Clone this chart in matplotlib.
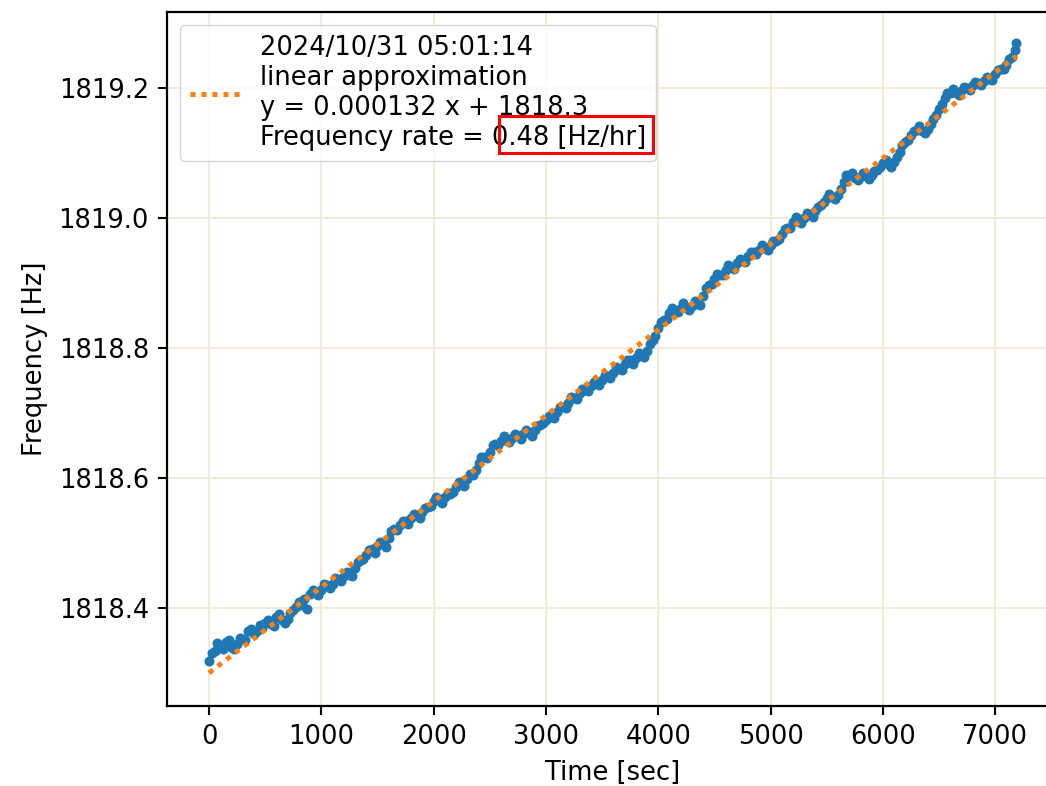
import numpy as np
import matplotlib
matplotlib.use("Agg")
import matplotlib.pyplot as plt
from matplotlib.patches import Rectangle

time_main = list(range(0, 7200, 50)) + [7190]
freq_main = [
    1818.318, 1818.334, 1818.342, 1818.347, 1818.340, 1818.344, 1818.352, 1818.365,
    1818.360, 1818.373, 1818.377, 1818.375, 1818.386, 1818.381, 1818.383, 1818.397,
    1818.409, 1818.414, 1818.421, 1818.424, 1818.428, 1818.435, 1818.437, 1818.445,
    1818.449, 1818.452, 1818.461, 1818.474, 1818.482, 1818.490, 1818.495, 1818.499,
    1818.508, 1818.522, 1818.527, 1818.533, 1818.538, 1818.543, 1818.547, 1818.556,
    1818.565, 1818.568, 1818.570, 1818.575, 1818.586, 1818.594, 1818.598, 1818.605,
    1818.623, 1818.632, 1818.640, 1818.652, 1818.657, 1818.659, 1818.662, 1818.664,
    1818.667, 1818.669, 1818.674, 1818.681, 1818.689, 1818.694, 1818.702, 1818.709,
    1818.716, 1818.723, 1818.731, 1818.736, 1818.741, 1818.746, 1818.751, 1818.757,
    1818.762, 1818.768, 1818.775, 1818.782, 1818.785, 1818.789, 1818.795, 1818.812,
    1818.830, 1818.843, 1818.854, 1818.859, 1818.861, 1818.863, 1818.865, 1818.868,
    1818.880, 1818.897, 1818.906, 1818.913, 1818.920, 1818.925, 1818.930, 1818.935,
    1818.941, 1818.947, 1818.951, 1818.954, 1818.958, 1818.965, 1818.975, 1818.984,
    1818.994, 1818.997, 1819.000, 1819.004, 1819.010, 1819.020, 1819.031, 1819.033,
    1819.036, 1819.055, 1819.064, 1819.062, 1819.063, 1819.064, 1819.066, 1819.074,
    1819.084, 1819.083, 1819.086, 1819.102, 1819.117, 1819.127, 1819.135, 1819.134,
    1819.137, 1819.152, 1819.167, 1819.184, 1819.192, 1819.193, 1819.195, 1819.200,
    1819.205, 1819.208, 1819.211, 1819.214, 1819.221, 1819.229, 1819.236, 1819.247,
    1819.270,
]

# in-between samples (spread of the band)
time_mid = list(range(25, 7200, 50))
freq_mid = [
    1818.331, 1818.346, 1818.337, 1818.350, 1818.336, 1818.353, 1818.351, 1818.368,
    1818.364, 1818.369, 1818.381, 1818.372, 1818.390, 1818.376, 1818.392, 1818.401,
    1818.405, 1818.398, 1818.428, 1818.420, 1818.436, 1818.430, 1818.446, 1818.441,
    1818.455, 1818.449, 1818.470, 1818.475, 1818.489, 1818.484, 1818.502, 1818.494,
    1818.518, 1818.520, 1818.534, 1818.529, 1818.545, 1818.538, 1818.554, 1818.557,
    1818.570, 1818.562, 1818.577, 1818.579, 1818.594, 1818.588, 1818.606, 1818.612,
    1818.632, 1818.631, 1818.650, 1818.650, 1818.664, 1818.655, 1818.668, 1818.660,
    1818.673, 1818.665, 1818.680, 1818.684, 1818.696, 1818.692, 1818.709, 1818.708,
    1818.724, 1818.721, 1818.737, 1818.733, 1818.748, 1818.743, 1818.758, 1818.754,
    1818.770, 1818.766, 1818.782, 1818.776, 1818.792, 1818.786, 1818.806, 1818.818,
    1818.840, 1818.845, 1818.862, 1818.855, 1818.869, 1818.858, 1818.872, 1818.866,
    1818.893, 1818.899, 1818.914, 1818.912, 1818.928, 1818.922, 1818.937, 1818.933,
    1818.948, 1818.944, 1818.958, 1818.951, 1818.965, 1818.967, 1818.983, 1818.985,
    1819.001, 1818.993, 1819.007, 1819.002, 1819.017, 1819.024, 1819.037, 1819.029,
    1819.044, 1819.066, 1819.070, 1819.058, 1819.069, 1819.060, 1819.072, 1819.078,
    1819.089, 1819.079, 1819.094, 1819.112, 1819.120, 1819.134, 1819.141, 1819.131,
    1819.145, 1819.158, 1819.176, 1819.193, 1819.199, 1819.189, 1819.201, 1819.197,
    1819.210, 1819.205, 1819.217, 1819.212, 1819.227, 1819.230, 1819.245, 1819.258,
]

# linear approximation end points
fit_time = [0, 7190]
fit_freq = [1818.300, 1819.249]

legend_text = ("2024/10/31 05:01:14\nlinear approximation\n"
               "y = 0.000132 x + 1818.3\nFrequency rate = 0.48 [Hz/hr]")

assert len(time_main) == len(freq_main)
assert len(time_mid) == len(freq_mid)

t = np.array(time_main + time_mid)
f = np.array(freq_main + freq_mid)
order = np.argsort(t)
t, f = t[order], f[order]

# everything is ~1.85x the matplotlib defaults
plt.rcParams["font.size"] = 18.5
plt.rcParams["axes.linewidth"] = 1.6
plt.rcParams["xtick.major.size"] = 6.5
plt.rcParams["ytick.major.size"] = 6.5
plt.rcParams["xtick.major.width"] = 1.5
plt.rcParams["ytick.major.width"] = 1.5
plt.rcParams["xtick.major.pad"] = 6.5
plt.rcParams["ytick.major.pad"] = 6.5
plt.rcParams["axes.labelpad"] = 7.4

W, H, DPI = 1046, 786, 100
fig = plt.figure(figsize=(W / DPI, H / DPI), dpi=DPI)
# axes runs past the right edge (the reference is cropped there)
ax = fig.add_axes([167 / W, 1 - 706 / H, (1058 - 167) / W, (706 - 12) / H])

ax.plot(t, f, "o", color="#1f77b4", ms=7.2, mew=0, zorder=2)
ax.plot(fit_time, fit_freq, color="#ff7f0e", lw=3.6, ls=(0, (1, 1.2)),
        zorder=3, label=legend_text)

ax.set_xlim(-374, 7560)
ax.set_ylim(1818.249, 1819.317)
ax.set_xticks(range(0, 8000, 1000))
ax.set_yticks([1818.4, 1818.6, 1818.8, 1819.0, 1819.2])
ax.grid(True, color="#f4e9dd", lw=1.5, zorder=0)
ax.set_axisbelow(True)
ax.set_xlabel("Time [sec]")
ax.set_ylabel("Frequency [Hz]")
ax.legend(loc="upper left", handlelength=1.9)

# red box highlighting the rate value
fig.patches.append(Rectangle((499 / W, 1 - 153 / H), (653 - 499) / W, 37 / H,
                             transform=fig.transFigure, fill=False,
                             edgecolor="red", lw=2.2, zorder=10))

fig.savefig("out.png", dpi=DPI)
